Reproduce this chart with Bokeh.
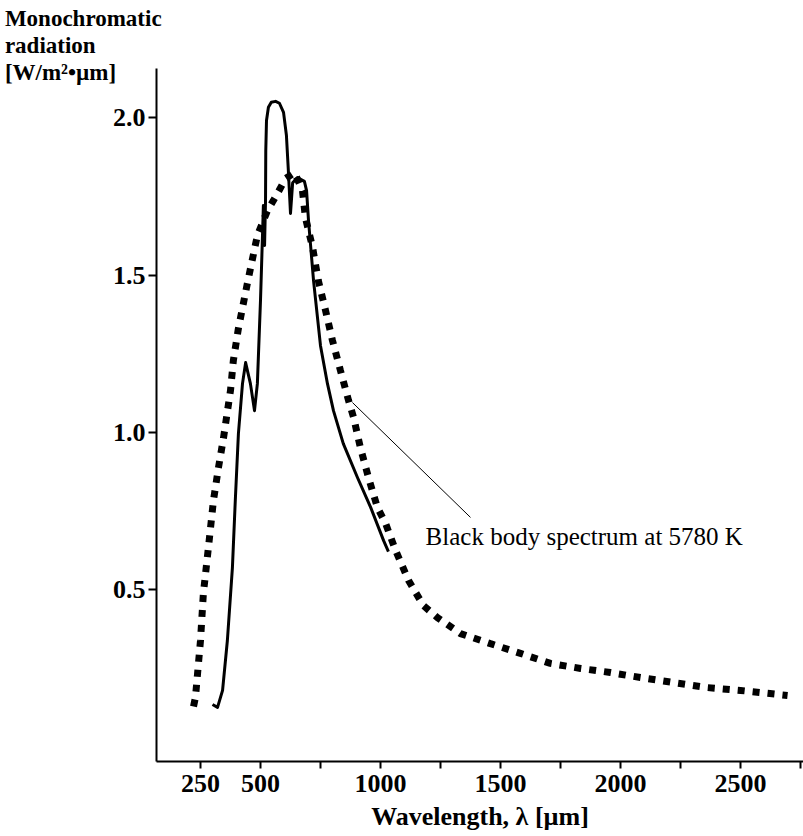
from bokeh.plotting import figure
from bokeh.models import Label, FixedTicker, Range1d
from bokeh.embed import file_html
from bokeh.resources import INLINE

# ---- data ----
sun_wl = [300, 321, 342, 362, 383, 395, 408, 425, 438, 458, 475, 487, 500, 509, 512, 517,
          521, 522, 525, 533, 545, 563, 579, 596, 608, 616, 625, 634, 654, 683, 692, 700,
          721, 750, 779, 804, 845, 904, 959, 1013, 1033]
sun_val = [0.132, 0.123, 0.177, 0.336, 0.568, 0.782, 0.995, 1.154, 1.221, 1.154, 1.068, 1.154,
           1.419, 1.642, 1.721, 1.594, 1.737, 1.896, 1.992, 2.034, 2.050, 2.053, 2.047, 2.018,
           1.945, 1.833, 1.696, 1.794, 1.810, 1.798, 1.769, 1.674, 1.482, 1.275, 1.154, 1.068,
           0.963, 0.855, 0.760, 0.654, 0.619]

bb_wl = [221, 229, 250, 262, 283, 304, 325, 346, 375, 387, 408, 446, 487, 529, 571, 604, 642,
         675, 687, 717, 741, 771, 800, 833, 867, 888, 916, 950, 987, 1021, 1063, 1117, 1179,
         1237, 1333, 1458, 1583, 1708, 1834, 1958, 2083, 2221, 2363, 2500, 2696]
bb_val = [0.126, 0.155, 0.336, 0.486, 0.632, 0.782, 0.887, 0.982, 1.132, 1.228, 1.330, 1.476,
          1.626, 1.705, 1.760, 1.807, 1.826, 1.768, 1.683, 1.588, 1.482, 1.387, 1.291, 1.196,
          1.100, 1.046, 0.951, 0.855, 0.760, 0.709, 0.623, 0.527, 0.447, 0.409, 0.358, 0.326,
          0.295, 0.263, 0.247, 0.234, 0.218, 0.202, 0.186, 0.177, 0.161]

x_ticks = [250, 500, 750, 1000, 1250, 1500, 1750, 2000, 2250, 2500, 2750]
x_tick_labels = ["250", "500", "", "1000", "", "1500", "", "2000", "", "2500", ""]
y_ticks = [0.5, 1.0, 1.5, 2.0]
y_tick_labels = ["0.5", "1.0", "1.5", "2.0"]

# extent of the drawn axes
x_axis_start, x_axis_end = 66.7, 2762.5
y_axis_start, y_axis_end = -0.049, 2.158

title_lines = ["Monochromatic", "radiation", "[W/m\u00b2\u2022\u00b5m]"]
x_title = "Wavelength, \u03bb [\u00b5m]"
annot_text = "Black body spectrum at 5780 K"
leader_wl = [883, 1375]
leader_val = [1.094, 0.728]
annot_wl = 1188
annot_val = 0.667
# anchor (data units, left of the y axis) for the three title lines
title_wl = -565
title_vals = [2.317, 2.232, 2.146]

FONT = "Liberation Serif"

# the frame fills the whole canvas; the axes are pinned at fixed data locations
p = figure(width=803, height=836,
           x_range=Range1d(-583.3, 2762.5), y_range=Range1d(-0.2882, 2.3742),
           output_backend="svg", toolbar_location=None,
           min_border_left=0, min_border_right=0,
           min_border_top=0, min_border_bottom=0)
p.outline_line_color = None
p.grid.visible = False
p.background_fill_color = "white"
p.border_fill_color = "white"

# black body (dotted, thick square dots)
p.line(bb_wl, bb_val, line_color="black", line_width=7, line_dash="7 8", line_cap="butt")
# measured solar spectrum (solid)
p.line(sun_wl, sun_val, line_color="black", line_width=3, line_join="round")
# leader line
p.line(leader_wl, leader_val, line_color="black", line_width=1)

p.add_layout(Label(x=annot_wl, y=annot_val, text=annot_text, text_font=FONT,
                   text_font_size="25px", text_color="black", text_baseline="alphabetic"))

# axes
xa = p.xaxis[0]
xa.fixed_location = y_axis_start
xa.bounds = (x_axis_start, x_axis_end)
xa.ticker = FixedTicker(ticks=x_ticks)
xa.major_label_overrides = {t: l for t, l in zip(x_ticks, x_tick_labels)}
xa.minor_tick_line_color = None
xa.major_tick_in = 0
xa.major_tick_out = 7
xa.major_tick_line_width = 2
xa.axis_line_width = 2
xa.major_label_standoff = 7
xa.major_label_text_font = FONT
xa.major_label_text_font_size = "26px"
xa.major_label_text_font_style = "bold"
xa.major_label_text_color = "black"
xa.axis_label = x_title
xa.axis_label_standoff = 6
xa.axis_label_text_font = FONT
xa.axis_label_text_font_size = "26px"
xa.axis_label_text_font_style = "bold"
xa.axis_label_text_color = "black"

ya = p.yaxis[0]
ya.fixed_location = x_axis_start
ya.bounds = (y_axis_start, y_axis_end)
ya.ticker = FixedTicker(ticks=y_ticks)
ya.major_label_overrides = {t: l for t, l in zip(y_ticks, y_tick_labels)}
ya.minor_tick_line_color = None
ya.major_tick_in = 0
ya.major_tick_out = 8
ya.major_tick_line_width = 2
ya.axis_line_width = 2
ya.major_label_standoff = 3
ya.major_label_text_font = FONT
ya.major_label_text_font_size = "26px"
ya.major_label_text_font_style = "bold"
ya.major_label_text_color = "black"

# y-axis title, three lines at the top left
for line, v in zip(title_lines, title_vals):
    p.add_layout(Label(x=title_wl, y=v, text=line, text_font=FONT, text_font_size="23px",
                       text_font_style="bold", text_color="black",
                       text_baseline="alphabetic"))

open("out.html", "w").write(file_html(p, INLINE))
